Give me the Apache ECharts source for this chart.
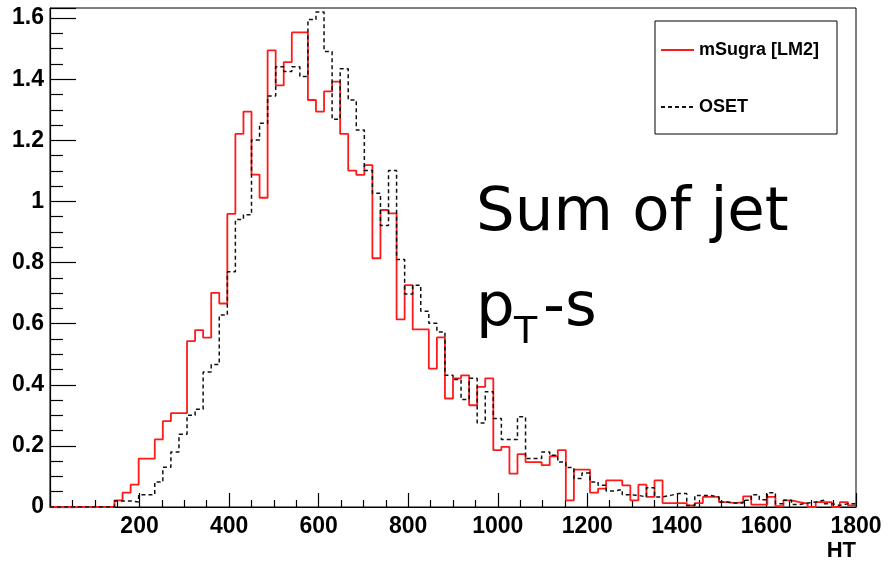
<!DOCTYPE html>
<html>
<head>
<meta charset="utf-8">
<title>HT distribution</title>
<script src="https://cdn.jsdelivr.net/npm/echarts@6/dist/echarts.min.js"></script>
<style>
  html, body { margin: 0; padding: 0; background: #fff; }
  #chart { width: 895px; height: 562px; }
</style>
</head>
<body>
<div id="chart"></div>
<script>
// Histogram binning: 100 bins of 18 GeV over HT = 0 .. 1800
const htMin = 0;
const htMax = 1800;
const binWidth = 18;

// mSugra [LM2] bin contents (bins 0..99)
const msugraCounts = [
  0, 0, 0, 0, 0, 0, 0, 0, 0.022, 0.047,
  0.073, 0.158, 0.158, 0.221, 0.281, 0.307, 0.307, 0.543, 0.579, 0.554,
  0.701, 0.666, 0.959, 1.221, 1.294, 1.088, 1.012, 1.494, 1.380, 1.456,
  1.553, 1.553, 1.332, 1.294, 1.360, 1.392, 1.221, 1.101, 1.087, 1.119,
  0.814, 0.972, 0.961, 0.614, 0.726, 0.581, 0.581, 0.453, 0.555, 0.355,
  0.421, 0.431, 0.333, 0.393, 0.421, 0.186, 0.197, 0.109, 0.173, 0.147,
  0.147, 0.137, 0.166, 0.186, 0.022, 0.122, 0.122, 0.047, 0.060, 0.087,
  0.087, 0.071, 0.022, 0.073, 0.033, 0.087, 0.013, 0.013, 0.013, 0.005,
  0.013, 0.033, 0.033, 0.016, 0.013, 0.016, 0.035, 0.008, 0.008, 0.033,
  0.003, 0.022, 0.016, 0.011, 0, 0.016, 0.016, 0, 0.016, 0.005
];

// OSET bin contents (bins 0..99)
const osetCounts = [
  0, 0, 0, 0, 0, 0, 0, 0, 0.020, 0.020,
  0.016, 0.040, 0.040, 0.082, 0.130, 0.180, 0.238, 0.300, 0.320, 0.442,
  0.466, 0.628, 0.770, 0.941, 0.956, 1.201, 1.256, 1.345, 1.441, 1.425,
  1.441, 1.409, 1.595, 1.620, 1.491, 1.269, 1.434, 1.332, 1.234, 1.101,
  1.027, 0.921, 1.101, 0.810, 0.697, 0.726, 0.641, 0.601, 0.573, 0.431,
  0.417, 0.352, 0.421, 0.275, 0.377, 0.290, 0.221, 0.221, 0.295, 0.159,
  0.159, 0.180, 0.169, 0.147, 0.129, 0.093, 0.111, 0.082, 0.071, 0.052,
  0.057, 0.040, 0.038, 0.033, 0.063, 0.033, 0.038, 0.044, 0.044, 0.005,
  0.038, 0.038, 0.033, 0.016, 0.013, 0.013, 0.022, 0.040, 0.024, 0.047,
  0.011, 0.022, 0.008, 0.013, 0.016, 0.022, 0.011, 0.005, 0.011, 0.011
];

const seriesNames = ['mSugra [LM2]', 'OSET'];
const xTickStep = 200;
const yTickStep = 0.2;
const yMax = 1.633;

// Turn bin contents into step points at each bin's low edge, closing at htMax
function stepPoints(counts) {
  const pts = counts.map((c, i) => [htMin + i * binWidth, c]);
  pts.push([htMax, counts[counts.length - 1]]);
  return pts;
}

const labelFont = { fontFamily: 'Liberation Sans, Arial, sans-serif', fontWeight: 'bold', color: '#000' };
const handFont = '"Comic Sans MS", "DejaVu Sans", sans-serif';

const chart = echarts.init(document.getElementById('chart'), null, { renderer: 'canvas' });

chart.setOption({
  animation: false,
  backgroundColor: '#fff',
  grid: {
    left: 50, right: 39, top: 8, bottom: 55,
    show: true, borderColor: '#000', borderWidth: 1, backgroundColor: 'transparent'
  },
  xAxis: {
    type: 'value',
    min: htMin, max: htMax, interval: xTickStep,
    axisLine: { show: true, onZero: false, lineStyle: { color: '#000', width: 1.2 } },
    axisTick: { show: true, inside: true, length: 14, lineStyle: { color: '#000', width: 1.2 } },
    minorTick: { show: true, splitNumber: 4, length: 7, lineStyle: { color: '#000', width: 1.2 } },
    splitLine: { show: false },
    axisLabel: Object.assign({
      fontSize: 23, margin: 8, showMinLabel: false,
      formatter: v => String(v)
    }, labelFont)
  },
  yAxis: {
    type: 'value',
    min: 0, max: yMax, interval: yTickStep,
    axisLine: { show: true, lineStyle: { color: '#000', width: 1.2 } },
    axisTick: { show: true, inside: true, length: 26, lineStyle: { color: '#000', width: 1.2 } },
    minorTick: { show: true, splitNumber: 4, length: 13, lineStyle: { color: '#000', width: 1.2 } },
    splitLine: { show: false },
    axisLabel: Object.assign({
      fontSize: 23, margin: 6, showMaxLabel: false,
      formatter: v => String(Math.round(v * 10) / 10)
    }, labelFont)
  },
  legend: {
    orient: 'vertical',
    left: 655, top: 21,
    padding: [20, 18, 18, 5],
    itemGap: 39,
    itemWidth: 33, itemHeight: 14,
    borderColor: '#000', borderWidth: 1,
    backgroundColor: '#fff',
    itemStyle: { opacity: 0 },
    textStyle: Object.assign({ fontSize: 18 }, labelFont),
    data: seriesNames
  },
  series: [
    {
      name: seriesNames[0],
      type: 'line',
      step: 'end',
      symbol: 'none',
      data: stepPoints(msugraCounts),
      lineStyle: { color: '#ff1a1a', width: 1.8 },
      itemStyle: { color: '#ff1a1a' },
      z: 2
    },
    {
      name: seriesNames[1],
      type: 'line',
      step: 'end',
      symbol: 'none',
      data: stepPoints(osetCounts),
      lineStyle: { color: '#111', width: 1.5, type: [4, 3] },
      itemStyle: { color: '#111' },
      z: 3
    }
  ],
  graphic: [
    {
      type: 'text',
      style: { text: 'HT', x: 856, y: 540, textAlign: 'right', textVerticalAlign: 'top',
               font: 'bold 22px Liberation Sans, Arial, sans-serif', fill: '#000' }
    },
    {
      type: 'text',
      style: { text: 'Sum of jet', x: 476, y: 214, textVerticalAlign: 'middle',
               font: '61px ' + handFont, fill: '#000' }
    },
    {
      type: 'text',
      style: { text: 'p', x: 476, y: 309, textVerticalAlign: 'middle',
               font: '61px ' + handFont, fill: '#000' }
    },
    {
      type: 'text',
      style: { text: 'T', x: 514, y: 333, textVerticalAlign: 'middle',
               font: '38px ' + handFont, fill: '#000' }
    },
    {
      type: 'text',
      style: { text: '-s', x: 543, y: 309, textVerticalAlign: 'middle',
               font: '61px ' + handFont, fill: '#000' }
    }
  ]
});
</script>
</body>
</html>
